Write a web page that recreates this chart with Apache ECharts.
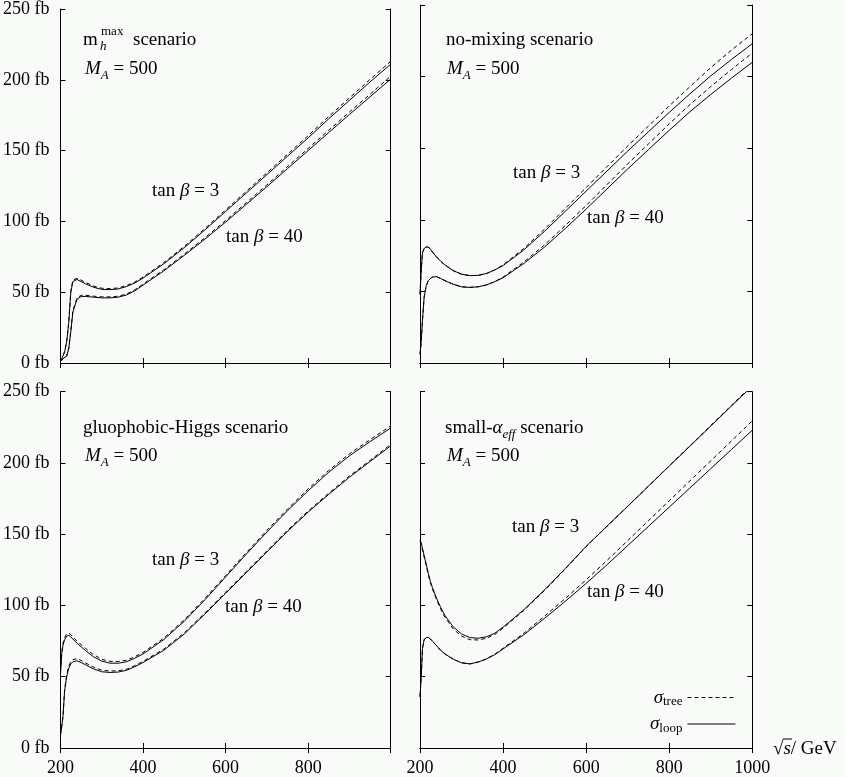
<!DOCTYPE html>
<html><head><meta charset="utf-8">
<script src="https://cdn.jsdelivr.net/npm/echarts@6/dist/echarts.min.js"></script>
<style>html,body{margin:0;padding:0;background:#f8fbf8}#c{width:845px;height:777px}</style>
</head><body><div id="c"></div>
<script>
// sqrt(s) in GeV
const sqrtS = [200, 203, 206, 210, 215, 220, 225, 230, 240, 250, 260, 280, 300, 320, 340, 360, 380, 400, 450, 500, 550, 600, 650, 700, 750, 800, 850, 900, 950, 1000];

// m_h^max scenario
const mhmaxLoop3  = [1, 3, 5, 8, 15, 28, 50, 57.5, 59, 57.5, 56, 53.5, 52, 51.8, 52.3, 54, 56.5, 60, 70, 81.5, 94, 107, 120, 133, 146, 159, 172.5, 185.5, 198.5, 211];
const mhmaxTree3  = [1, 3, 5, 8, 15, 29, 51, 58.5, 59.8, 58.5, 57, 54.3, 52.8, 52.5, 53, 54.7, 57.2, 60.7, 70.8, 82.4, 95, 108.1, 121.2, 134.3, 147.4, 160.5, 174.1, 187.2, 200.3, 213];
const mhmaxLoop40 = [1, 2, 3, 4, 5, 10, 22, 36, 45, 47, 47, 46.5, 46, 46, 46.5, 48, 51, 55, 65, 76, 87.5, 99.5, 112, 124.5, 137.3, 150, 162.8, 175.5, 188, 200.5];
const mhmaxTree40 = [1, 2, 3, 4, 5, 10.5, 23, 37, 46, 47.8, 47.8, 47.2, 46.7, 46.7, 47.2, 48.7, 51.7, 55.7, 65.8, 76.9, 88.5, 100.6, 113.2, 125.8, 138.7, 151.5, 164.4, 177.2, 189.8, 202.5];

// no-mixing scenario
const nomixLoop3  = [48, 65, 77, 80, 81, 81, 79.5, 77.5, 74, 71, 68.5, 64.5, 62, 61, 61.2, 62.5, 65, 68, 79, 92, 106, 120, 134, 148, 161.5, 175, 188, 200.5, 212, 223];
const nomixTree3  = [48, 65, 77, 80, 81, 81, 79.5, 77.5, 74, 71, 68.5, 64.5, 62, 61, 61.2, 62.5, 65, 68.5, 80, 93.5, 108, 122.5, 137, 151.5, 165.5, 179.5, 193, 206.3, 218.5, 230];
const nomixLoop40 = [6, 15, 30, 46, 54, 57.5, 59, 60, 60.3, 59, 57.5, 55, 53.2, 52.8, 53.2, 54.5, 56.8, 59.5, 69.5, 81, 94, 107.5, 121.5, 135.5, 149, 162.5, 175.5, 187.5, 199, 210];
const nomixTree40 = [6, 15, 30, 46, 54, 57.5, 59, 60, 60.3, 59, 57.5, 55, 53.2, 52.8, 53.2, 54.5, 56.8, 60, 70.5, 82.5, 96, 110, 124.5, 139, 153, 167, 180.5, 193, 205, 216.5];

// gluophobic-Higgs scenario
const gluoLoop3  = [52, 66, 72, 76, 78.5, 79, 78, 76.5, 73.5, 71, 68.5, 64, 61, 59.5, 59.5, 60.5, 63, 66, 76, 89, 104, 120, 136, 151.5, 166.5, 180.5, 193.5, 205, 215, 224.5];
const gluoTree3  = [53, 67, 73.5, 77.5, 80, 80.5, 79.5, 78, 75, 72.5, 70, 65.5, 62.3, 60.8, 60.7, 61.6, 64, 67, 77, 90, 105, 121, 137, 152.7, 167.7, 181.8, 194.8, 206.4, 216.4, 226];
const gluoLoop40 = [9, 15, 22, 40, 50, 56, 59, 60.5, 61.2, 60, 58.5, 55.5, 53.5, 53, 53.3, 54.5, 57, 60, 68.5, 80, 94, 108.5, 123, 137.5, 152, 165.5, 178, 190, 201, 212];
const gluoTree40 = [9, 15, 22, 41, 51.5, 57.5, 60.5, 62, 62.7, 61.5, 59.8, 56.7, 54.6, 54, 54.2, 55.3, 57.8, 60.8, 69.3, 80.8, 94.8, 109.3, 123.8, 138.3, 152.8, 166.3, 178.8, 190.8, 201.8, 213];

// small-alpha_eff scenario
const smallLoop3  = [146, 144, 140, 135, 129, 122.5, 117, 112.5, 105, 98.5, 93, 85, 80, 77.5, 77, 78, 80.5, 84.8, 97, 111, 126, 141.5, 155.6, 169.6, 183.7, 197.8, 211.8, 225.9, 240, 254];
const smallTree3  = [145, 143, 139, 134, 128, 121.5, 116, 111.5, 104, 97.3, 91.8, 83.5, 78.5, 76, 75.8, 77, 79.7, 84.1, 96.5, 110.6, 125.7, 141.3, 155.5, 169.6, 183.8, 198, 212.1, 226.3, 240.5, 254.6];
const smallLoop40 = [36, 50, 70, 76, 77.5, 77.6, 76.5, 75, 71.7, 68.5, 66, 62.3, 59.8, 59, 60.3, 62.5, 65.5, 69.5, 79.5, 91, 103, 115.5, 128.5, 142, 155.5, 169, 182.5, 196, 209.5, 223];
const smallTree40 = [36, 50, 70, 76, 77.5, 77.6, 76.5, 75, 71.7, 68.5, 66, 62.3, 59.8, 59, 60.3, 62.5, 65.8, 70, 80.5, 92.5, 105, 118, 131.5, 145.5, 159.5, 173.5, 187.5, 201.5, 215.5, 229.5];

const yTickLabels = ['0 fb', '50 fb', '100 fb', '150 fb', '200 fb', '250 fb'];
const xTickLabels = ['200', '400', '600', '800', '1000'];

const F = 'Liberation Serif';
const FS = 18;   // tick labels
const TS = 19;   // annotations

const panels = [
  {grid: {left: 58.7, top: 5, width: 332, height: 358}, xLab: false, yLab: true, hideLast: false,
   curves: [[mhmaxTree3, 'tree'], [mhmaxLoop3, 'loop'], [mhmaxTree40, 'tree'], [mhmaxLoop40, 'loop']]},
  {grid: {left: 420, top: 5, width: 332.3, height: 358}, xLab: false, yLab: false, hideLast: false,
   curves: [[nomixTree3, 'tree'], [nomixLoop3, 'loop'], [nomixTree40, 'tree'], [nomixLoop40, 'loop']]},
  {grid: {left: 58.7, top: 391.7, width: 332, height: 357.6}, xLab: true, yLab: true, hideLast: true,
   curves: [[gluoTree3, 'tree'], [gluoLoop3, 'loop'], [gluoTree40, 'tree'], [gluoLoop40, 'loop']]},
  {grid: {left: 420, top: 391.7, width: 332.3, height: 357.6}, xLab: true, yLab: false, hideLast: false,
   curves: [[smallTree3, 'tree'], [smallLoop3, 'loop'], [smallTree40, 'tree'], [smallLoop40, 'loop']]}
];

const grids = [], xAxes = [], yAxes = [], series = [];
const axLine = {show: true, lineStyle: {color: '#000', width: 1}};
const tick = {show: true, inside: true, length: 5, lineStyle: {color: '#000', width: 1}};
panels.forEach((p, i) => {
  grids.push(Object.assign({containLabel: false}, p.grid));
  const xl = {show: p.xLab, color: '#000', fontFamily: F, fontSize: FS, margin: 11,
    formatter: v => {if (p.hideLast && v === 1000) return ''; const k = xTickLabels.indexOf(String(v)); return k >= 0 ? xTickLabels[k] : '';}};
  xAxes.push({type: 'value', gridIndex: i, position: 'bottom', min: 200, max: 1000, interval: 200,
    axisLine: axLine, axisTick: tick, axisLabel: xl, splitLine: {show: false}});
  xAxes.push({type: 'value', gridIndex: i, position: 'top', min: 200, max: 1000, interval: 200,
    axisLine: axLine, axisTick: tick, axisLabel: {show: false}, splitLine: {show: false}});
  yAxes.push({type: 'value', gridIndex: i, position: 'left', min: 0, max: 250, interval: 50,
    axisLine: axLine, axisTick: tick, splitLine: {show: false},
    axisLabel: {show: p.yLab, color: '#000', fontFamily: F, fontSize: FS, margin: 11,
      formatter: v => yTickLabels[Math.round(v / 50)]}});
  yAxes.push({type: 'value', gridIndex: i, position: 'right', min: 0, max: 250, interval: 50,
    axisLine: axLine, axisTick: tick, axisLabel: {show: false}, splitLine: {show: false}});
  p.curves.forEach(([arr, kind]) => {
    series.push({
      type: 'line', name: kind, xAxisIndex: 2 * i, yAxisIndex: 2 * i,
      data: sqrtS.map((x, k) => [x, arr[k]]),
      showSymbol: false, symbol: 'none', smooth: false, clip: true,
      lineStyle: {color: '#000', width: 1, type: kind === 'tree' ? [4, 3] : 'solid'},
      itemStyle: {color: '#000'}, silent: true
    });
  });
});

const richBase = {
  i: {fontStyle: 'italic', fontFamily: F, fontSize: TS, fill: '#000', lineHeight: 26},
  n: {fontFamily: F, fontSize: TS, fill: '#000', lineHeight: 26},
  sub: {fontStyle: 'italic', fontFamily: F, fontSize: 13, fill: '#000', verticalAlign: 'bottom', lineHeight: 26}
};
function txt(x, y, text) {
  return {type: 'text', x: x, y: y, silent: true,
    style: {text: text, rich: richBase, font: TS + 'px "' + F + '"', fill: '#000', verticalAlign: 'middle', align: 'left'}};
}
const graphics = [
  // top-left
  txt(83, 40, '{n|m}'),
  {type: 'text', x: 101, y: 32, silent: true, style: {text: 'max', font: '13px "' + F + '"', fill: '#000', verticalAlign: 'middle'}},
  {type: 'text', x: 100, y: 47, silent: true, style: {text: 'h', font: 'italic 13px "' + F + '"', fill: '#000', verticalAlign: 'middle'}},
  txt(133, 40, '{n|scenario}'),
  txt(85, 69, '{i|M}{sub|A}{n| = 500}'),
  txt(152, 191, '{n|tan }{i|β}{n| = 3}'),
  txt(226, 237, '{n|tan }{i|β}{n| = 40}'),
  // top-right
  txt(446, 40, '{n|no-mixing scenario}'),
  txt(447, 69, '{i|M}{sub|A}{n| = 500}'),
  txt(513, 173, '{n|tan }{i|β}{n| = 3}'),
  txt(587, 218, '{n|tan }{i|β}{n| = 40}'),
  // bottom-left
  txt(83, 428, '{n|gluophobic-Higgs scenario}'),
  txt(85, 456, '{i|M}{sub|A}{n| = 500}'),
  txt(152, 560, '{n|tan }{i|β}{n| = 3}'),
  txt(225, 607, '{n|tan }{i|β}{n| = 40}'),
  // bottom-right
  txt(445, 428, '{n|small-}{i|α}{sub|eff}{n| scenario}'),
  txt(447, 456, '{i|M}{sub|A}{n| = 500}'),
  txt(512, 527, '{n|tan }{i|β}{n| = 3}'),
  txt(587, 592, '{n|tan }{i|β}{n| = 40}'),
  // x axis title
  txt(773, 749, '{n|√}{i|s}{n|/ GeV}'),
  {type: 'line', silent: true, shape: {x1: 783, y1: 739, x2: 792, y2: 739}, style: {stroke: '#000', lineWidth: 1}}
];

const chart = echarts.init(document.getElementById('c'), null, {renderer: 'canvas'});
chart.setOption({
  animation: false,
  backgroundColor: '#f8fbf8',
  grid: grids, xAxis: xAxes, yAxis: yAxes, series: series,
  legend: {
    data: ['tree', 'loop'], selectedMode: false, orient: 'vertical', align: 'right',
    left: 645, top: 683, itemWidth: 48, itemHeight: 12, itemGap: 6,
    itemStyle: {opacity: 0}, lineStyle: {width: 1},
    formatter: n => '{s|σ}{sub|' + n + '}',
    textStyle: {color: '#000', fontFamily: F, fontSize: FS,
      rich: {s: {fontStyle: 'italic', fontFamily: F, fontSize: TS, color: '#000', lineHeight: 22},
             sub: {fontFamily: F, fontSize: 13, color: '#000', verticalAlign: 'bottom', lineHeight: 22}}}
  },
  graphic: graphics
});
</script></body></html>
